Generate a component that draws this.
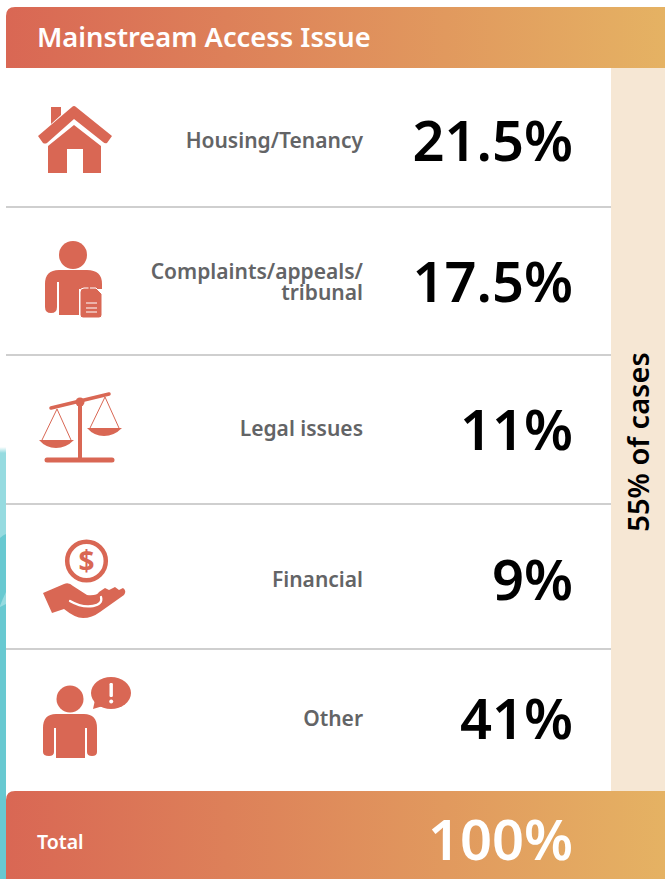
import React from "react";

const title = "Mainstream Access Issue";
const categories = ["Housing/Tenancy", "Complaints/appeals/\ntribunal", "Legal issues", "Financial", "Other"];
const values = ["21.5%", "17.5%", "11%", "9%", "41%"];
const sideLabel = "55% of cases";
const totalLabel = "Total";
const totalValue = "100%";
const separators = [207, 355, 504, 649];
const rowCenters = [140.5, 282, 429, 580, 719];
const valueCenters = [142, 283, 431, 581, 720];
const iconCentersX = [75, 73, 80, 84, 87];
const iconCentersY = [140, 278, 428, 577, 720];

const RED = "#d96754";
const font = "'Noto Sans', 'Open Sans', sans-serif";

const House = () => (
  <g fill={RED}>
    <path d="M-24,-33 h10 v8 l-10,9 z" />
    <path d="M-37,-4 L-3,-33 Q-1,-35 1,-33 L37,-4 L32,3 Q30,4 28,2 L-1,-21 L-28,3 Q-30,4 -32,3 Z" />
    <path d="M-27,6 L-1,-15 L26,6 V33 H8 V9 H-8 V33 H-27 Z" />
  </g>
);

const Person = () => (
  <g fill={RED}>
    <circle cx={0} cy={-23} r={14} />
    <path d="M-14,-8 H14 Q29,-8 29,6 V11 H6 V37 H-14 V4 h-2 V29 Q-16,35 -22,35 Q-28,35 -28,29 V6 Q-28,-8 -14,-8 Z" />
    <path d="M7,14 Q7,10 11,10 H23 L29,16 V37 Q29,40 26,40 H10 Q7,40 7,37 Z" stroke="#fff" strokeWidth={1} />
    <path d="M13,25 h11 M13,30 h11 M13,34 h11" stroke="#fff" strokeWidth={1} fill="none" />
    <path d="M15.5,6 h1.5 v5 h-1.5z" />
  </g>
);

const Scales = () => (
  <g>
    <path d="M-29,-20 L29,-34" stroke={RED} strokeWidth={3.5} strokeLinecap="round" fill="none" />
    <circle cx={0} cy={-26} r={4.5} fill={RED} />
    <path d="M0,-26 V32" stroke={RED} strokeWidth={4} fill="none" />
    <path d="M-33,32 H32" stroke={RED} strokeWidth={5} strokeLinecap="round" fill="none" />
    <path d="M-38,12 L-23,-19 L-9,12 M10,0 L25,-31 L39,0" stroke={RED} strokeWidth={1} fill="none" />
    <path d="M-41,12 H-6 Q-14,20 -24,20 Q-34,20 -41,12 Z" fill={RED} />
    <path d="M7,0 H42 Q34,8 24,8 Q14,8 7,0 Z" fill={RED} />
  </g>
);

const Hand = () => (
  <g>
    <circle cx={2.5} cy={-16} r={19.3} fill="none" stroke={RED} strokeWidth={4.5} />
    <text x={2.5} y={-6} textAnchor="middle" fontFamily={font} fontWeight={700} fontSize={28} fill={RED}>$</text>
    <path d="M-41,16 L-20,7 Q-15,5 -11,9 L3,18 Q13,19 15,15 L21,11 L25,13 L31,10 L35,13 L39,11 Q43,14 40,18 L16,35 Q8,41 -1,41 Q-9,41 -20,32 L-32,36 Z" fill={RED} />
    <path d="M-14,24 Q-2,31 9,29 Q19,27 17,20" stroke="#fff" strokeWidth={2.3} fill="none" strokeLinecap="round" />
  </g>
);

const Speaker = () => (
  <g fill={RED}>
    <circle cx={-17} cy={-21} r={13.5} />
    <path d="M-31,-6 H-3 Q10,-6 10,8 V32 Q10,36 5,36 Q0,36 0,32 V8 H-2 V38 H-31 V8 H-33 V32 Q-33,36 -38,36 Q-44,36 -44,32 V8 Q-44,-6 -31,-6 Z" />
    <ellipse cx={24} cy={-27} rx={20} ry={16} />
    <path d="M8,-20 L6,-11 L16,-14 Z" />
    <rect x={22.5} y={-37} width={3.4} height={14} rx={1.2} fill="#fff" />
    <circle cx={24.2} cy={-18.5} r={2} fill="#fff" />
  </g>
);

const icons = [House, Person, Scales, Hand, Speaker];

export default function App() {
  const width = 665;
  const height = 879;
  return (
    <svg
      width={width}
      height={height}
      viewBox={`0 0 ${width} ${height}`}
      style={{ position: "fixed", left: 0, top: 0, display: "block", background: "#fff" }}
    >
      <defs>
        <linearGradient id="grad" x1="0" x2="1" y1="0" y2="0">
          <stop offset="0" stopColor="#d96754" />
          <stop offset="1" stopColor="#e5b263" />
        </linearGradient>
        <linearGradient id="fade" x1="0" x2="0" y1="0" y2="1">
          <stop offset="0" stopColor="#fff" />
          <stop offset="1" stopColor="#96dbe0" />
        </linearGradient>
      </defs>
      <rect x={0} y={0} width={width} height={height} fill="#fff" />
      <rect x={0} y={452} width={6} height={427} fill="#68c9d1" />
      <path d="M0,452 H6 V534 Q3,535 0,538 Z" fill="#96dbe0" />
      <rect x={0} y={447} width={6} height={6} fill="url(#fade)" />
      <path d="M0,606 Q3,598 6,592 V604 L0,607 Z" fill="#96dbe0" />
      <rect x={6} y={68} width={605} height={723} fill="#fff" />
      <rect x={611} y={68} width={54} height={723} fill="#f6e7d4" />
      <path d="M6,68 V16 Q6,7 15,7 H665 V68 Z" fill="url(#grad)" />
      <text x={37} y={47} fontFamily={font} fontWeight={600} fontSize={27.3} fill="#fff">{title}</text>
      {separators.map((s) => (
        <line key={s} x1={6} x2={611} y1={s} y2={s} stroke="#9f9f9f" strokeWidth={1.2} />
      ))}
      {categories.map((c, i) => {
        const Icon = icons[i];
        const lines = c.split("\n");
        return (
          <g key={c}>
            <g transform={`translate(${iconCentersX[i]},${iconCentersY[i]})`}>
              <Icon />
            </g>
            {lines.map((l, j) => (
              <text
                key={l}
                x={363}
                y={rowCenters[i] + 7 + (j - (lines.length - 1) / 2) * 21}
                textAnchor="end"
                fontFamily={font}
                fontWeight={600}
                fontSize={21}
                fill="#636466"
              >
                {l}
              </text>
            ))}
            <text
              x={573}
              y={valueCenters[i] + 19}
              textAnchor="end"
              fontFamily={font}
              fontWeight={600}
              fontSize={56}
              fill="#000"
            >
              {values[i]}
            </text>
          </g>
        );
      })}
      <text
        transform="translate(649,442) rotate(-90)"
        textAnchor="middle"
        fontFamily={font}
        fontWeight={600}
        fontSize={29}
        fill="#000"
      >
        {sideLabel}
      </text>
      <path d="M6,879 V800 Q6,791 15,791 H665 V879 Z" fill="url(#grad)" />
      <text x={37} y={849} fontFamily={font} fontWeight={600} fontSize={19.5} fill="#fff">{totalLabel}</text>
      <text x={573} y={860} textAnchor="end" fontFamily={font} fontWeight={600} fontSize={56} fill="#fff">{totalValue}</text>
    </svg>
  );
}
